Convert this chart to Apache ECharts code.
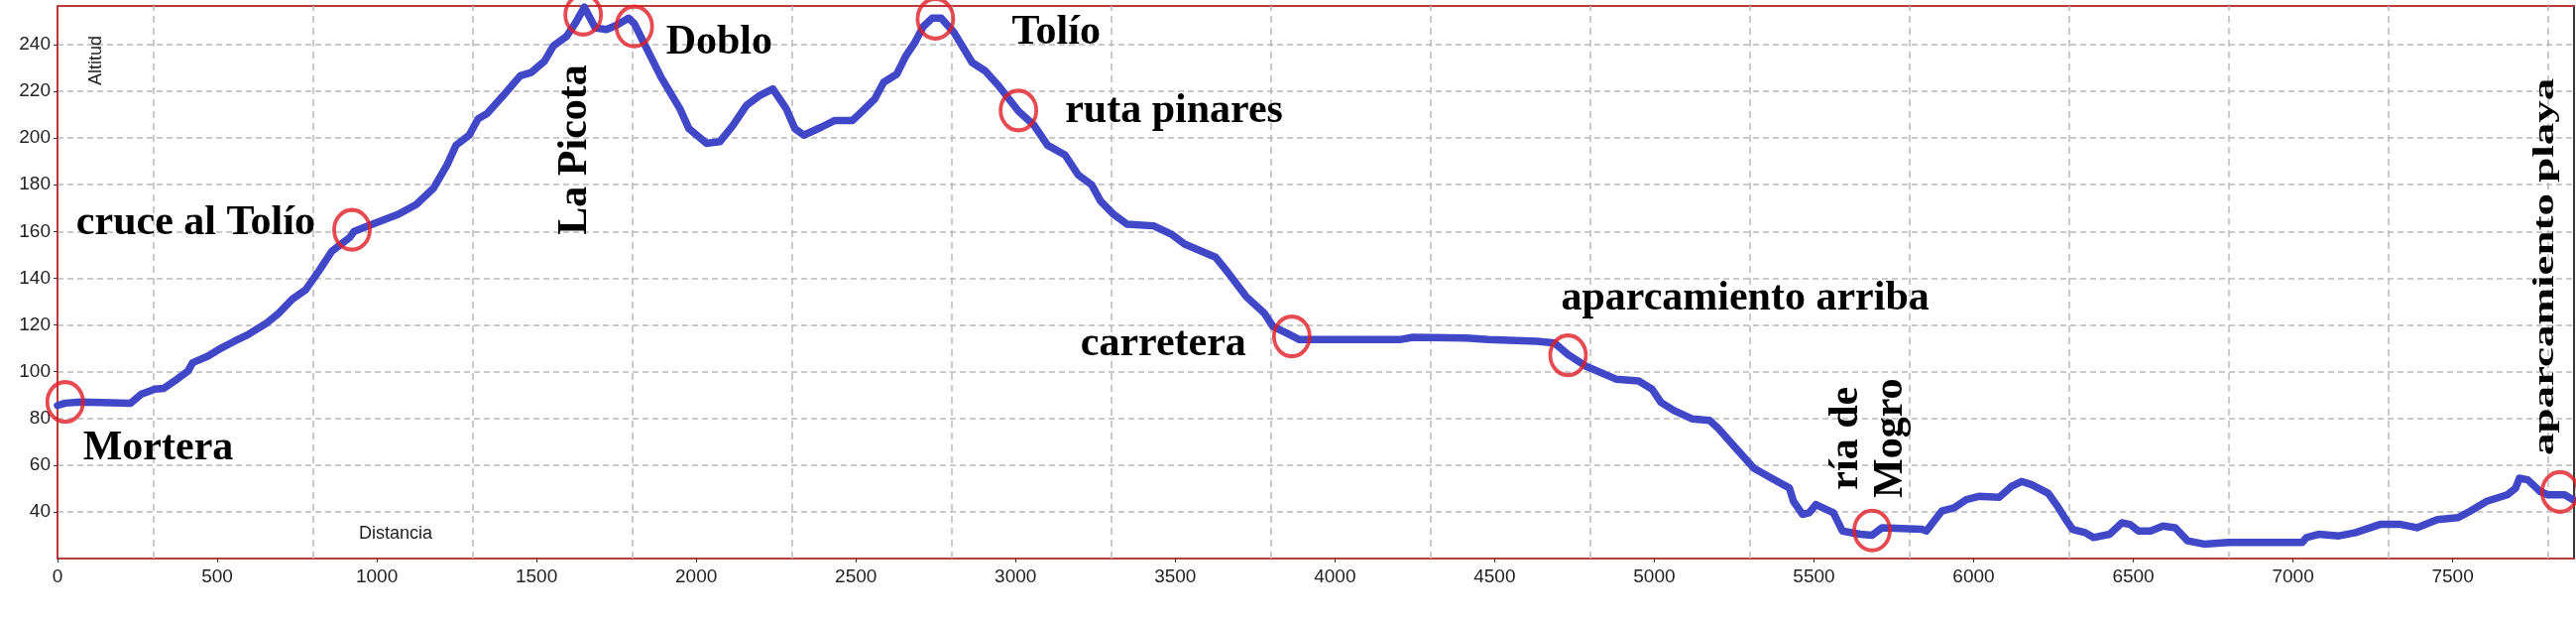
<!DOCTYPE html>
<html>
<head>
<meta charset="utf-8">
<script src="https://cdn.jsdelivr.net/npm/echarts@6/dist/echarts.min.js"></script>
<style>
html,body{margin:0;padding:0;background:#fff;}
#c{width:2598px;height:630px;}
</style>
</head>
<body>
<div id="c"></div>
<script>
// ---- data (distance in m, altitude in m) ----
const distance = [0, 24, 70, 139, 229, 263, 305, 332, 374, 409, 423, 471, 513, 554, 596, 652, 693, 735, 777, 818,
  859, 915, 929, 984, 1067, 1123, 1178, 1220, 1248, 1289, 1317, 1345, 1400, 1449, 1483, 1525, 1552, 1594, 1622, 1650,
  1684, 1719, 1754, 1788, 1806, 1835, 1890, 1949, 1977, 2032, 2074, 2115, 2157, 2198, 2240, 2282, 2309, 2337, 2393, 2434,
  2489, 2517, 2559, 2587, 2628, 2656, 2684, 2711, 2739, 2767, 2808, 2864, 2905, 2947, 3009, 3058, 3100, 3155, 3196, 3238,
  3266, 3307, 3349, 3432, 3488, 3529, 3626, 3668, 3723, 3779, 3806, 3848, 3889, 3995, 4203, 4244, 4411, 4480, 4632, 4688,
  4730, 4785, 4882, 4951, 4993, 5021, 5062, 5118, 5173, 5201, 5256, 5312, 5367, 5423, 5436, 5464, 5485, 5506, 5561, 5589,
  5644, 5682, 5713, 5838, 5852, 5900, 5939, 5977, 6016, 6080, 6118, 6150, 6182, 6233, 6259, 6285, 6310, 6349, 6375, 6426,
  6464, 6490, 6516, 6554, 6593, 6631, 6670, 6721, 6798, 7029, 7042, 7080, 7144, 7196, 7273, 7337, 7388, 7452, 7517, 7555,
  7607, 7671, 7697, 7709, 7735, 7774, 7799, 7851, 7876];
const altitude = [85.5, 86.5, 87, 86.8, 86.5, 90.4, 92.5, 92.8, 96.7, 100.3, 103.8, 106.6, 110.1, 113, 115.8, 120.5, 125, 131, 135, 143,
  151.5, 157.4, 160, 163, 167.3, 171.5, 178.6, 188.5, 196.9, 201.2, 208.2, 210.4, 218.8, 226.6, 228, 232.9, 239.3, 243.5, 249.2, 256,
  247.1, 246.4, 248.5, 251.3, 249, 241, 226, 212.5, 204, 197.7, 198.4, 205.4, 213.9, 218.1, 221, 212.5, 204, 201.2, 204.7, 207.5,
  207.5, 211.1, 216.7, 223.8, 227.3, 235, 240.7, 247.7, 251.3, 251.3, 245, 232.3, 228.7, 222.3, 211.5, 205.4, 196.9, 192.7, 184.2, 180,
  173, 167.3, 163.1, 162.4, 158.8, 154.6, 149, 141.9, 132, 125, 119.3, 116.5, 113.7, 113.7, 113.7, 114.7, 114.4, 113.7, 113, 112.2,
  107.3, 102.4, 96.7, 96, 92.5, 86.8, 83.3, 79.8, 79.1, 75.6, 67.1, 58.6, 54.4, 50.2, 44.5, 38.9, 39.6, 43.1, 39.6, 31.8,
  30.4, 30, 33.2, 32.5, 31.8, 40.3, 41.7, 45.2, 46.6, 46.2, 50.8, 53, 51.6, 48, 43.1, 37.5, 32.5, 31.1, 29, 30.4,
  35.3, 34.6, 31.8, 31.8, 33.9, 33.2, 27.6, 26.2, 26.9, 26.9, 29, 30.4, 29.7, 31.1, 34.6, 34.6, 33.2, 36.7, 37.5, 40.3,
  44.5, 47.3, 50.1, 54.4, 53.7, 48.7, 47.3, 47.3, 45.2];

// vertical grid lines (offset from the distance ticks, as in the original)
const vGridLines = [300, 800, 1300, 1800, 2300, 2800, 3300, 3800, 4300, 4800, 5300, 5800, 6300, 6800, 7300, 7800];

// annotated points
const annNames = ['Mortera', 'cruce al Tolío', 'La Picota', 'Doblo', 'Tolío', 'ruta pinares', 'carretera',
  'aparcamiento arriba', 'ría de Mogro', 'aparcamiento playa'];
const annDist = [24, 922, 1646, 1806, 2749, 3009, 3865, 4730, 5682, 7836];
const annAlt = [87, 160.7, 252.7, 247.7, 251, 211.8, 115.1, 107, 32, 48.5];

const xAxisName = 'Distancia';
const yAxisName = 'Altitud';

// ---- styles ----
const axisRed = '#b83c3c';
const gridGrey = '#b9b9b9';
const tickFont = {fontSize: 19, fontFamily: '"Liberation Sans", Arial, sans-serif', color: '#222'};

const chart = echarts.init(document.getElementById('c'), null, {renderer: 'canvas'});
const option = {
  animation: false,
  backgroundColor: '#fff',
  grid: {left: 58, right: 2, top: 6, bottom: 67, containLabel: false},
  xAxis: [
    {type: 'value', min: 0, max: 7880, interval: 500, position: 'bottom',
      axisLine: {show: true, onZero: false, lineStyle: {color: axisRed, width: 2}},
      axisTick: {show: true, inside: false, length: 4, lineStyle: {color: '#333', width: 1}},
      axisLabel: Object.assign({show: true, margin: 9, showMaxLabel: false, formatter: v => String(v)}, tickFont),
      splitLine: {show: false}},
    {type: 'value', min: 0, max: 7880, position: 'top',
      axisLine: {show: true, onZero: false, lineStyle: {color: axisRed, width: 2}},
      axisTick: {show: false}, axisLabel: {show: false}, splitLine: {show: false}}
  ],
  yAxis: [
    {type: 'value', min: 20, max: 256.5, interval: 20, position: 'left',
      axisLine: {show: true, onZero: false, lineStyle: {color: axisRed, width: 2}},
      axisTick: {show: true, inside: false, length: 4, lineStyle: {color: '#333', width: 1}},
      axisLabel: Object.assign({show: true, margin: 7, showMinLabel: false, showMaxLabel: false, formatter: v => String(v)}, tickFont),
      splitLine: {show: true, lineStyle: {color: gridGrey, type: [6, 4], width: 1.5}}},
    {type: 'value', min: 20, max: 256.5, position: 'right',
      axisLine: {show: true, onZero: false, lineStyle: {color: '#3a3a3a', width: 2}},
      axisTick: {show: false}, axisLabel: {show: false}, splitLine: {show: false}}
  ],
  series: [
    {type: 'line', xAxisIndex: 0, yAxisIndex: 0, data: [[0, 20]], symbol: 'none', silent: true, z: 1,
      lineStyle: {width: 0, opacity: 0},
      markLine: {silent: true, z: 1, symbol: ['none', 'none'], label: {show: false}, animation: false,
        lineStyle: {color: gridGrey, type: [7, 5], width: 1.5},
        data: vGridLines.map(v => ({xAxis: v}))}},
    {type: 'line', xAxisIndex: 0, yAxisIndex: 0, z: 3, symbol: 'none', showSymbol: false,
      data: distance.map((d, i) => [d, altitude[i]]),
      lineStyle: {color: '#4048c8', width: 7.5, join: 'round', cap: 'round'}},
    {type: 'scatter', xAxisIndex: 0, yAxisIndex: 0, z: 4, symbol: 'circle', symbolSize: [36, 40],
      data: annDist.map((d, i) => [d, annAlt[i]]),
      itemStyle: {color: 'rgba(0,0,0,0)', borderColor: '#e01e25', borderWidth: 4}}
  ]
};
chart.setOption(option);

// label placement relative to each circle (pixel offsets)
const annStyle = {
  'Mortera': {dx: 18, dy: 47, align: 'left'},
  'cruce al Tolío': {dx: -37, dy: -6, align: 'right'},
  'La Picota': {dx: -8, dy: 136, align: 'center', rot: Math.PI / 2},
  'Doblo': {dx: 32, dy: 16, align: 'left'},
  'Tolío': {dx: 77, dy: 14, align: 'left'},
  'ruta pinares': {dx: 47, dy: 1, align: 'left'},
  'carretera': {dx: -46, dy: 8, align: 'right'},
  'aparcamiento arriba': {dx: -7, dy: -57, align: 'left'},
  'ría de Mogro': {dx: -3.5, dy: -93, align: 'center', rot: Math.PI / 2, text: 'ría de\nMogro', lh: 45},
  'aparcamiento playa': {dx: -15, dy: -227, align: 'center', rot: Math.PI / 2, size: 30, sx: 1.5}
};
const graphics = annNames.map((n, i) => {
  const p = chart.convertToPixel({gridIndex: 0}, [annDist[i], annAlt[i]]);
  const s = annStyle[n];
  const style = {
    text: s.text || n, x: 0, y: 0, fill: '#000',
    fontSize: s.size || 42, fontWeight: 'bold', fontFamily: '"Liberation Serif", "Times New Roman", serif',
    align: s.align, verticalAlign: 'middle'
  };
  if (s.lh) style.lineHeight = s.lh;
  return {type: 'text', x: p[0] + s.dx, y: p[1] + s.dy, rotation: s.rot || 0, scaleX: s.sx || 1, z: 10, silent: true, style};
});
graphics.push({type: 'text', x: 362, y: 538, z: 10, silent: true,
  style: {text: xAxisName, x: 0, y: 0, fill: '#222', fontSize: 18, fontFamily: '"Liberation Sans", Arial, sans-serif', align: 'left', verticalAlign: 'middle'}});
graphics.push({type: 'text', x: 97, y: 61, rotation: Math.PI / 2, z: 10, silent: true,
  style: {text: yAxisName, x: 0, y: 0, fill: '#222', fontSize: 18, fontFamily: '"Liberation Sans", Arial, sans-serif', align: 'center', verticalAlign: 'middle'}});
chart.setOption({graphic: graphics});
</script>
</body>
</html>
